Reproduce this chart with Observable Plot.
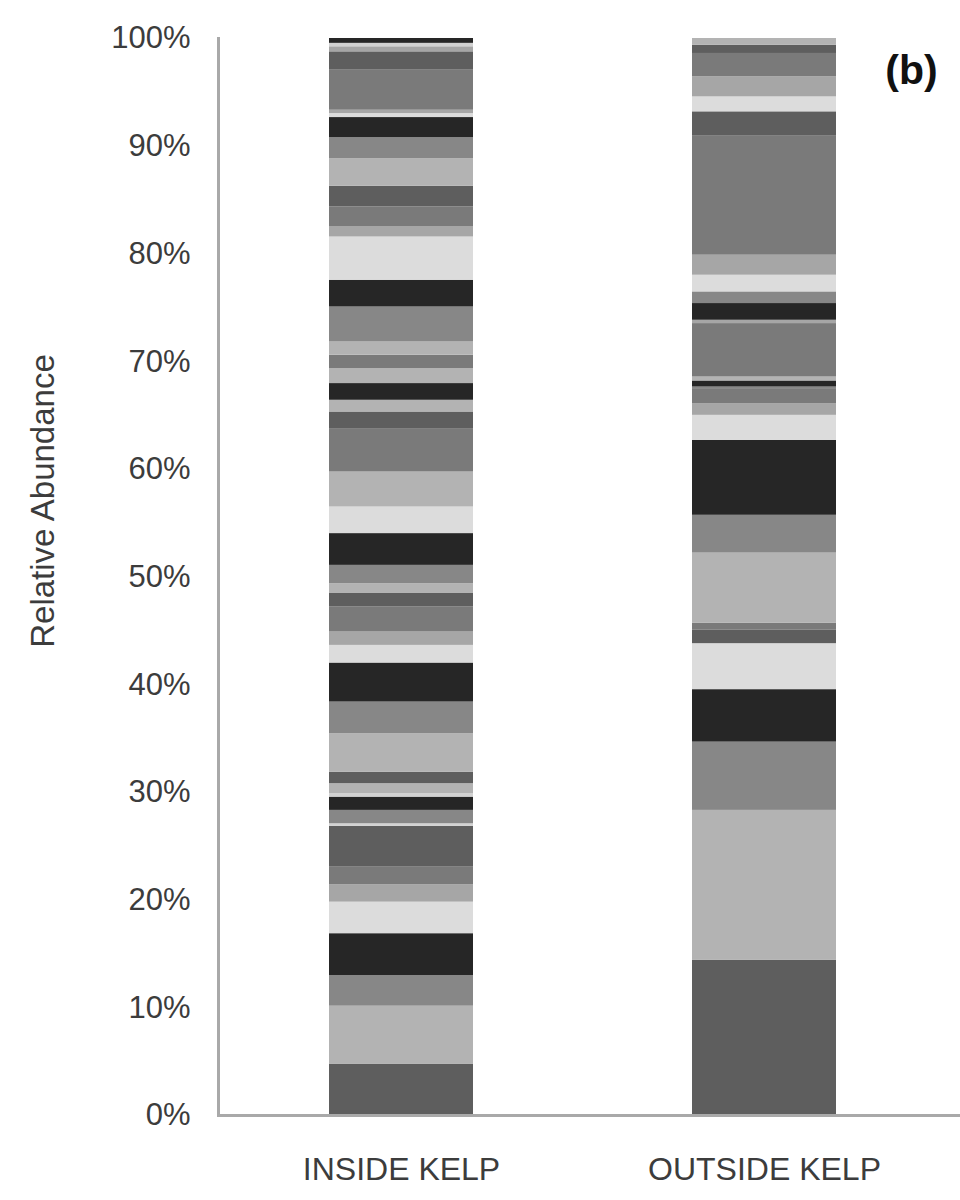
<!DOCTYPE html>
<html>
<head>
<meta charset="utf-8">
<script src="https://cdn.jsdelivr.net/npm/d3@7"></script>
<script src="https://cdn.jsdelivr.net/npm/@observablehq/plot@0.6"></script>
<style>
  html, body { margin: 0; padding: 0; background: #ffffff; }
  #chart { width: 960px; }
</style>
</head>
<body>
<div id="chart"></div>
<script>
// Categories
const sites = ["INSIDE KELP", "OUTSIDE KELP"];

// Grey shades used by the stacked segments (Excel greyscale cycle)
const shadeNames  = ["D", "L", "M", "K", "V", "A", "G", "W"];
const shadeColors = ["#5e5e5e", "#b3b3b3", "#878787", "#262626", "#dcdcdc", "#a6a6a6", "#7a7a7a", "#d2d2d2"];

// INSIDE KELP: segment values (%) from bottom to top, and their shades
const insideValues = [4.74, 5.41, 2.85, 3.88, 2.93, 1.62, 1.63, 3.78, 0.25, 1.24,
                      1.23, 0.32, 0.93, 1.07, 3.57, 2.94, 3.62, 1.64, 1.24, 2.32,
                      1.30, 0.87, 1.70, 2.95, 2.47, 3.25, 4.03, 1.54, 1.09, 1.55,
                      1.39, 1.24, 1.23, 3.25, 2.48, 4.02, 0.93, 1.86, 1.92, 2.57,
                      1.95, 1.86, 0.37, 0.31, 3.72, 1.70, 0.47, 0.32, 0.45];
const insideShades = ["D", "L", "M", "K", "V", "A", "G", "D", "W", "M",
                      "K", "W", "L", "D", "L", "M", "K", "V", "A", "G",
                      "D", "L", "M", "K", "V", "L", "G", "D", "L", "K",
                      "L", "G", "L", "M", "K", "V", "A", "G", "D", "L",
                      "M", "K", "V", "A", "G", "D", "A", "W", "K"];

// OUTSIDE KELP: segment values (%) from bottom to top, and their shades
const outsideValues = [14.40, 13.93, 6.34, 4.87, 4.27, 1.24, 0.67, 6.50, 3.51, 6.96,
                       2.32, 1.09, 1.39, 0.15, 0.56, 0.37, 4.96, 0.31, 1.55, 1.08,
                       1.55, 1.86, 11.05, 2.26, 1.39, 1.86, 2.17, 0.77, 0.62];
const outsideShades = ["D", "L", "M", "K", "V", "D", "G", "L", "M", "K",
                       "V", "A", "G", "M", "K", "L", "G", "A", "K", "M",
                       "V", "A", "G", "D", "V", "A", "G", "D", "L"];

// Tick values of the y axis (%)
const yTicks = [0, 10, 20, 30, 40, 50, 60, 70, 80, 90, 100];

// Table for the library
const rows = [];
insideValues.forEach((v, i) => rows.push({site: sites[0], value: v, shade: insideShades[i]}));
outsideValues.forEach((v, i) => rows.push({site: sites[1], value: v, shade: outsideShades[i]}));

const textColor = "#3c3c3c";
const axisGrey = "#a9a9a9";

const chart = Plot.plot({
  width: 960,
  height: 1200,
  marginTop: 38,
  marginBottom: 85,
  marginLeft: 218,
  marginRight: 0,
  style: {
    fontFamily: "'Liberation Sans', Arial, Helvetica, sans-serif",
    fontSize: "31px",
    color: textColor,
    background: "#ffffff"
  },
  x: {
    domain: sites,
    range: [218, 946.5],
    paddingInner: 0.604,
    paddingOuter: 0.304,
    axis: null
  },
  y: {
    domain: [0, 100],
    axis: null
  },
  color: {
    domain: shadeNames,
    range: shadeColors
  },
  marks: [
    Plot.barY(rows, {x: "site", y: "value", fill: "shade"}),
    Plot.frame({anchor: "left", stroke: axisGrey, strokeWidth: 3}),
    Plot.ruleY([0], {stroke: axisGrey, strokeWidth: 3}),
    Plot.axisY({
      ticks: yTicks,
      tickSize: 0,
      tickPadding: 28,
      tickFormat: d => d + "%",
      label: null,
      fontSize: 31,
      fill: textColor
    }),
    Plot.axisX({
      tickSize: 0,
      tickPadding: 42,
      label: null,
      fontSize: 32,
      fill: textColor
    }),
    Plot.text(["Relative Abundance"], {
      frameAnchor: "left",
      dx: -175,
      dy: -76,
      rotate: -90,
      textAnchor: "middle",
      lineAnchor: "middle",
      fontSize: 33,
      fill: textColor
    }),
    Plot.text(["(b)"], {
      frameAnchor: "top-right",
      dx: -49,
      dy: 32,
      textAnchor: "middle",
      lineAnchor: "middle",
      fontSize: 41,
      fontWeight: "bold",
      fill: "#111111"
    })
  ]
});

document.getElementById("chart").appendChild(chart);
</script>
</body>
</html>
